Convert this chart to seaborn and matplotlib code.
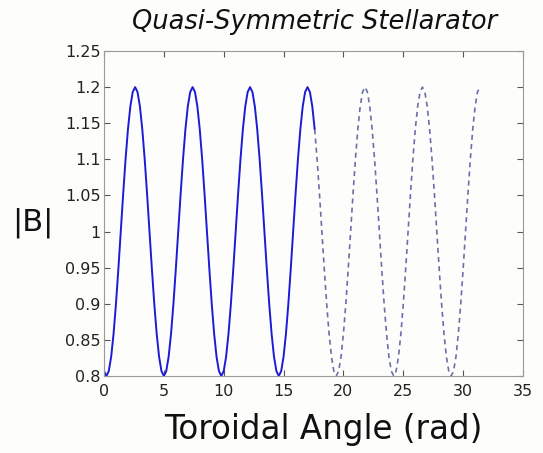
"""|B| along the toroidal angle for a quasi-symmetric stellarator."""

import matplotlib
matplotlib.use('Agg')
import matplotlib.pyplot as plt
import pandas as pd
import seaborn as sns

# toroidal angle samples (rad)
ANGLE = [
    0.0,
    0.2, 0.4, 0.6, 0.8, 1.0, 1.2, 1.4, 1.6, 1.8, 2.0, 2.2, 2.4,
    2.6, 2.8, 3.0, 3.2, 3.4, 3.6, 3.8, 4.0, 4.2, 4.4, 4.6, 4.8,
    5.0, 5.2, 5.4, 5.6, 5.8, 6.0, 6.2, 6.4, 6.6, 6.8, 7.0, 7.2,
    7.4, 7.6, 7.8, 8.0, 8.2, 8.4, 8.6, 8.8, 9.0, 9.2, 9.4, 9.6,
    9.8, 10.0, 10.2, 10.4, 10.6, 10.8, 11.0, 11.2, 11.4, 11.6, 11.8, 12.0,
    12.2, 12.4, 12.6, 12.8, 13.0, 13.2, 13.4, 13.6, 13.8, 14.0, 14.2, 14.4,
    14.6, 14.8, 15.0, 15.2, 15.4, 15.6, 15.8, 16.0, 16.2, 16.4, 16.6, 16.8,
    17.0, 17.2, 17.4, 17.6, 17.8, 18.0, 18.2, 18.4, 18.6, 18.8, 19.0, 19.2,
    19.4, 19.6, 19.8, 20.0, 20.2, 20.4, 20.6, 20.8, 21.0, 21.2, 21.4, 21.6,
    21.8, 22.0, 22.2, 22.4, 22.6, 22.8, 23.0, 23.2, 23.4, 23.6, 23.8, 24.0,
    24.2, 24.4, 24.6, 24.8, 25.0, 25.2, 25.4, 25.6, 25.8, 26.0, 26.2, 26.4,
    26.6, 26.8, 27.0, 27.2, 27.4, 27.6, 27.8, 28.0, 28.2, 28.4, 28.6, 28.8,
    29.0, 29.2, 29.4, 29.6, 29.8, 30.0, 30.2, 30.4, 30.6, 30.8, 31.0, 31.2,
    31.4,
]

# |B|
B_MAG = [
    0.8068,
    0.8, 0.8068, 0.8268, 0.8586, 0.9, 0.9482, 1.0, 1.0518, 1.1, 1.1414, 1.1732, 1.1932,
    1.2, 1.1932, 1.1732, 1.1414, 1.1, 1.0518, 1.0, 0.9482, 0.9, 0.8586, 0.8268, 0.8068,
    0.8, 0.8068, 0.8268, 0.8586, 0.9, 0.9482, 1.0, 1.0518, 1.1, 1.1414, 1.1732, 1.1932,
    1.2, 1.1932, 1.1732, 1.1414, 1.1, 1.0518, 1.0, 0.9482, 0.9, 0.8586, 0.8268, 0.8068,
    0.8, 0.8068, 0.8268, 0.8586, 0.9, 0.9482, 1.0, 1.0518, 1.1, 1.1414, 1.1732, 1.1932,
    1.2, 1.1932, 1.1732, 1.1414, 1.1, 1.0518, 1.0, 0.9482, 0.9, 0.8586, 0.8268, 0.8068,
    0.8, 0.8068, 0.8268, 0.8586, 0.9, 0.9482, 1.0, 1.0518, 1.1, 1.1414, 1.1732, 1.1932,
    1.2, 1.1932, 1.1732, 1.1414, 1.1, 1.0518, 1.0, 0.9482, 0.9, 0.8586, 0.8268, 0.8068,
    0.8, 0.8068, 0.8268, 0.8586, 0.9, 0.9482, 1.0, 1.0518, 1.1, 1.1414, 1.1732, 1.1932,
    1.2, 1.1932, 1.1732, 1.1414, 1.1, 1.0518, 1.0, 0.9482, 0.9, 0.8586, 0.8268, 0.8068,
    0.8, 0.8068, 0.8268, 0.8586, 0.9, 0.9482, 1.0, 1.0518, 1.1, 1.1414, 1.1732, 1.1932,
    1.2, 1.1932, 1.1732, 1.1414, 1.1, 1.0518, 1.0, 0.9482, 0.9, 0.8586, 0.8268, 0.8068,
    0.8, 0.8068, 0.8268, 0.8586, 0.9, 0.9482, 1.0, 1.0518, 1.1, 1.1414, 1.1732, 1.1932,
    1.2,
]

X_TICKS = [0, 5, 10, 15, 20, 25, 30, 35]
X_TICK_LABELS = ['0', '5', '10', '15', '20', '25', '30', '35']
Y_TICKS = [0.8, 0.85, 0.9, 0.95, 1.0, 1.05, 1.1, 1.15, 1.2, 1.25]
Y_TICK_LABELS = ['0.8', '0.85', '0.9', '0.95', '1', '1.05', '1.1', '1.15', '1.2', '1.25']

# past this angle the trace in the original looks faded / broken
FADE_START = 17.6

W, H = 543, 453
BG = '#fdfdfb'

sns.set_theme(style='ticks')
# the original text is set wide, DejaVu gets closest to that footprint
plt.rcParams['font.family'] = ['DejaVu Sans']

df = pd.DataFrame({'angle': ANGLE, 'B': B_MAG})

fig = plt.figure(figsize=(W / 100, H / 100), dpi=100, facecolor=BG)
ax = fig.add_axes([104 / W, 77 / H, 419 / W, 325 / H])
ax.set_facecolor(BG)

sns.lineplot(data=df[df['angle'] <= FADE_START], x='angle', y='B',
             color='#1c1cd6', linewidth=1.4, estimator=None, ax=ax)
sns.lineplot(data=df[df['angle'] >= FADE_START], x='angle', y='B',
             color='#6a6fa8', linewidth=1.2, linestyle=(0, (3, 2.5)),
             estimator=None, ax=ax)

ax.set_xlim(0, 35)
ax.set_ylim(0.8, 1.25)
ax.set_xticks(X_TICKS)
ax.set_xticklabels(X_TICK_LABELS)
ax.set_yticks(Y_TICKS)
ax.set_yticklabels(Y_TICK_LABELS)
ax.set_xlabel('')
ax.set_ylabel('')

for side in ['left', 'right', 'top', 'bottom']:
    ax.spines[side].set_visible(True)
    ax.spines[side].set_color('#9a9a9a')
    ax.spines[side].set_linewidth(0.8)

ax.tick_params(axis='both', direction='in', top=True, right=True,
               length=4, width=0.8, color='#555555',
               labelsize=11.5, labelcolor='#222222')
ax.tick_params(axis='x', pad=6)
ax.tick_params(axis='y', pad=2.5)

fig.text(315 / W, 1 - 22 / H, 'Quasi-Symmetric Stellarator',
         style='italic', fontsize=18.5, ha='center', va='center', color='#111111')
fig.text(323 / W, 1 - 430 / H, 'Toroidal Angle (rad)',
         fontsize=23.5, ha='center', va='center', color='#111111')
fig.text(33 / W, 1 - 223 / H, '|B|',
         fontsize=22, ha='center', va='center', color='#111111')

plt.savefig('out.png', dpi=100, facecolor=BG)
plt.close()
